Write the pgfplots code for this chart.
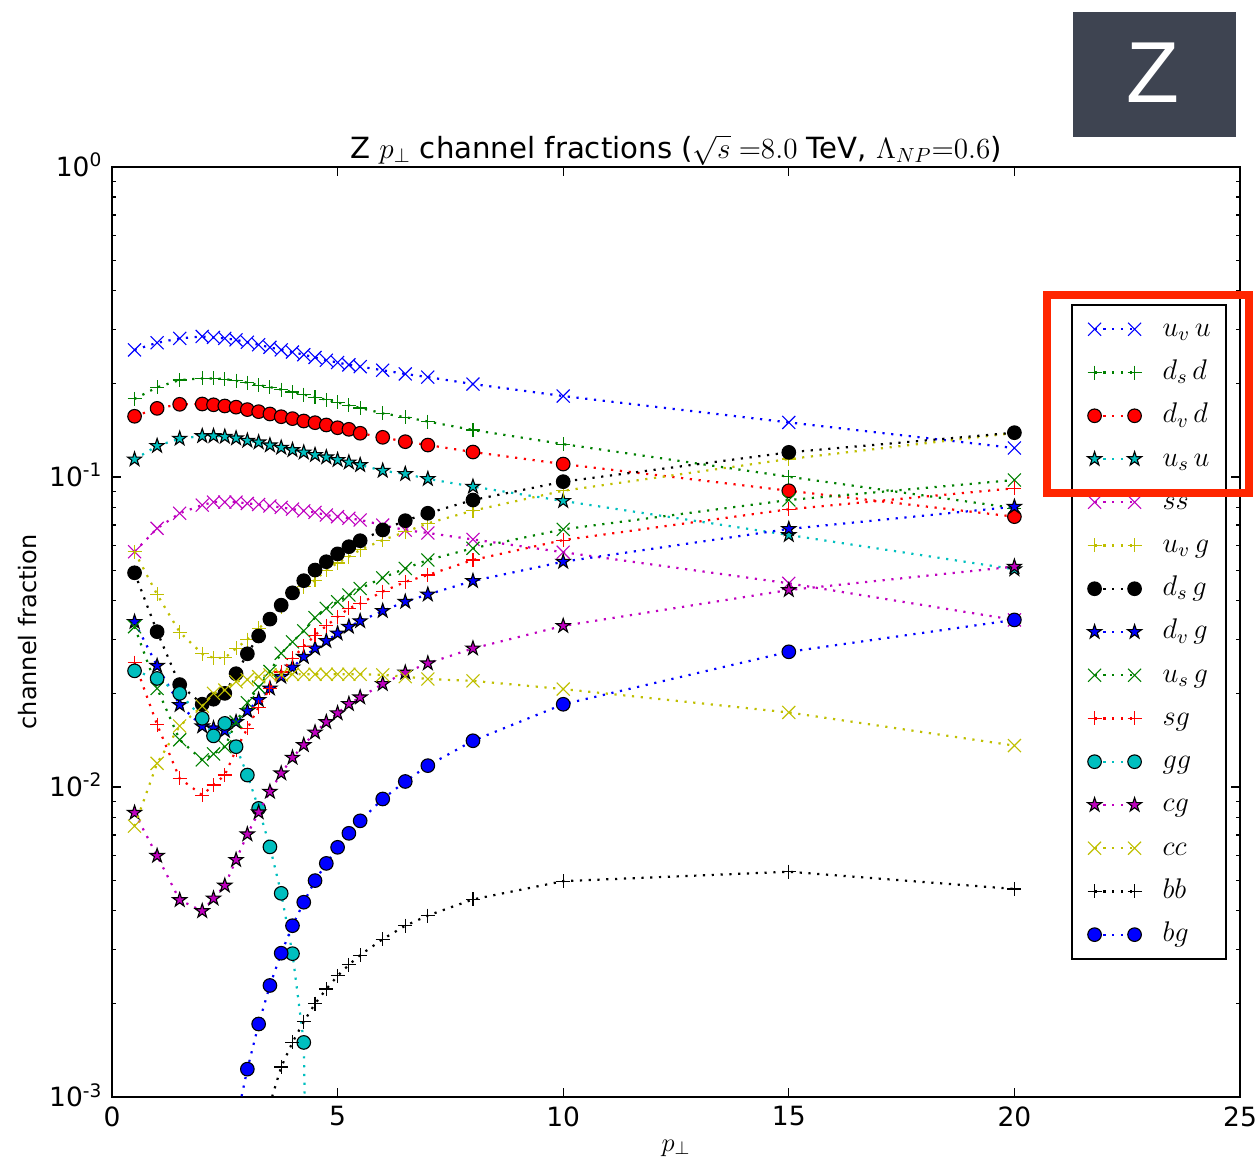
\documentclass[border=0pt]{standalone}
\usepackage{fix-cm}
\usepackage[no-math]{fontspec}
\setmainfont{DejaVu Sans}
\newfontfamily\zfont{Liberation Sans}
\usepackage{pgfplots}
\pgfplotsset{compat=1.18}
\usepackage{pgfplotstable}

\definecolor{mb}{rgb}{0,0,1}
\definecolor{mg}{rgb}{0,0.5,0}
\definecolor{mr}{rgb}{1,0,0}
\definecolor{mc}{rgb}{0,0.75,0.75}
\definecolor{mm}{rgb}{0.75,0,0.75}
\definecolor{my}{rgb}{0.75,0.75,0}
\definecolor{zbox}{RGB}{62,68,81}
\definecolor{hl}{RGB}{255,38,0}

\pgfdeclareplotmark{fstar}{%
  \pgfpathmoveto{\pgfpointpolar{90}{\pgfplotmarksize}}%
  \pgfpathlineto{\pgfpointpolar{126}{0.382*\pgfplotmarksize}}%
  \pgfpathlineto{\pgfpointpolar{162}{\pgfplotmarksize}}%
  \pgfpathlineto{\pgfpointpolar{198}{0.382*\pgfplotmarksize}}%
  \pgfpathlineto{\pgfpointpolar{234}{\pgfplotmarksize}}%
  \pgfpathlineto{\pgfpointpolar{270}{0.382*\pgfplotmarksize}}%
  \pgfpathlineto{\pgfpointpolar{306}{\pgfplotmarksize}}%
  \pgfpathlineto{\pgfpointpolar{342}{0.382*\pgfplotmarksize}}%
  \pgfpathlineto{\pgfpointpolar{18}{\pgfplotmarksize}}%
  \pgfpathlineto{\pgfpointpolar{54}{0.382*\pgfplotmarksize}}%
  \pgfpathclose
  \pgfusepathqfillstroke
}

\pgfplotstableread{
x     uvu    dsd    dvd    usu    ss     uvg    dsg    dvg    usg    sg      gg      cg      cc      bb      bg
0.5   0.257  0.1786 0.157  0.114  0.0574 0.0574 0.0491 0.0341 0.0329 0.0252  0.0237  0.00826 0.00748 nan     nan
1     0.271  0.1947 0.1665 0.126  0.0683 0.0418 0.0317 0.0246 0.0208 0.0159  0.0224  0.0060  0.01192 nan     nan
1.5   0.280  0.2055 0.1716 0.133  0.0764 0.0316 0.0214 0.0184 0.0142 0.01066 0.02005 0.00432 0.01573 nan     nan
2     0.284  0.208  0.172  0.1356 0.0812 0.0269 0.0185 0.0157 0.01223 0.00942 0.01666 0.00398 0.01825 nan    nan
2.25  0.282  0.208  0.171  0.1356 0.083  0.0261 0.0192 0.01547 0.01278 0.01015 0.01462 0.00437 0.02005 nan   nan
2.5   0.280  0.207  0.1695 0.1349 0.083  0.0261 0.02005 0.0152 0.01349 0.01093 0.01604 0.00481 0.02055 nan   nan
2.75  0.277  0.2045 0.168  0.1333 0.083  0.0280 0.0232 0.0162 0.0162 0.0132  0.01349 0.00582 0.02187 nan     0.00083
3     0.272  0.2015 0.165  0.131  0.0822 0.0299 0.0269 0.0176 0.0187 0.01546 0.01093 0.00704 0.0222  nan     0.00123
3.25  0.267  0.198  0.1625 0.1294 0.0815 0.0325 0.0307 0.0191 0.0210 0.0181  0.00853 0.00829 0.0227  0.0006  0.00172
3.5   0.262  0.195  0.1597 0.1266 0.0806 0.0348 0.0348 0.0208 0.0236 0.0208  0.00641 0.00966 0.0230  0.00095 0.00229
3.75  0.257  0.1915 0.1565 0.1244 0.0798 0.0381 0.0386 0.0227 0.0270 0.0235  0.00454 0.01107 0.0230  0.00125 0.00291
4     0.253  0.188  0.1543 0.1222 0.0788 0.0421 0.0423 0.0243 0.0294 0.0260  0.00290 0.01244 0.0231  0.00150 0.00357
4.25  0.248  0.1845 0.1516 0.120  0.0778 0.0443 0.0463 0.0263 0.0319 0.0284  0.00150 0.01366 0.0231  0.00175 0.00425
4.5   0.243  0.181  0.1497 0.1178 0.0769 0.0465 0.0501 0.0280 0.0352 0.0309  0.00001 0.0150  0.0231  0.00200 0.00499
4.75  0.238  0.1775 0.1472 0.1158 0.0754 0.0501 0.0533 0.0296 0.0377 0.0331  nan     0.0162  0.0231  0.00223 0.00567
5     0.234  0.174  0.1442 0.1135 0.0745 0.0528 0.0565 0.0313 0.0396 0.0354  nan     0.0173  0.0231  0.00246 0.00639
5.25  0.230  0.1705 0.1425 0.1115 0.0736 0.0553 0.0596 0.0329 0.0416 0.0377  nan     0.01853 0.0231  0.00267 0.00709
5.5   0.227  0.167  0.1384 0.1093 0.0727 0.0582 0.0623 0.0343 0.0437 0.0391  nan     0.01947 0.0231  0.00287 0.00778
6     0.221  0.1605 0.1343 0.1048 0.0700 0.0626 0.0675 0.0370 0.0473 0.0427  nan     0.0215  0.0230  0.00323 0.00915
6.5   0.215  0.156  0.130  0.1023 0.0674 0.0665 0.0723 0.0396 0.0507 0.0459  nan     0.0234  0.0227  0.00357 0.01042
7     0.210  0.151  0.1268 0.0986 0.0660 0.0709 0.0764 0.0418 0.0540 0.0483  nan     0.02506 0.0223  0.00385 0.01172
8     0.1995 0.1418 0.1204 0.0931 0.0629 0.0779 0.0843 0.0462 0.0589 0.0540  nan     0.0280  0.0220  0.00434 0.01410
10    0.1825 0.1277 0.1101 0.0837 0.0572 0.0903 0.0966 0.0533 0.0678 0.0626  nan     0.0331  0.0207  0.00497 0.01849
15    0.150  0.1002 0.0903 0.065  0.0454 0.1143 0.1201 0.0680 0.0843 0.0787  nan     0.0432  0.0174  0.00533 0.0273
20    0.124  0.0794 0.0745 0.0504 0.0346 0.1387 0.139  0.0802 0.0978 0.0920  nan     0.0514  0.0136  0.00469 0.0346
}\data

\pgfplotsset{
  mpl/.style={line width=1.1pt, dash pattern=on 1.1pt off 3.3pt},
  mx/.style={mpl, color=#1, mark=x, mark size=4.6pt, mark options={solid, line width=0.55pt}},
  mp/.style={mpl, color=#1, mark=+, mark size=3.5pt, mark options={solid, line width=0.55pt}},
  mo/.style={mpl, color=#1, mark=*, mark size=3.4pt, mark options={solid, fill=#1, draw=black, line width=0.55pt}},
  ms/.style={mpl, color=#1, mark=fstar, mark size=3.7pt, mark options={solid, fill=#1, draw=black, line width=0.55pt}},
}

\begin{document}
\begin{tikzpicture}
\useasboundingbox (0,0) rectangle (629.5pt,582pt);
\begin{axis}[
  at={(56pt,33.5pt)}, anchor=south west,
  scale only axis, width=564pt, height=465pt,
  xmin=0, xmax=25, ymin=1e-3, ymax=1, ymode=log,
  xtick={0,5,10,15,20,25},
  ytick={0.001,0.01,0.1,1},
  yticklabels={10\textsuperscript{-3},10\textsuperscript{-2},10\textsuperscript{-1},10\textsuperscript{0}},
  minor ytick={0.002,0.003,0.004,0.005,0.006,0.007,0.008,0.009,0.02,0.03,0.04,0.05,0.06,0.07,0.08,0.09,0.2,0.3,0.4,0.5,0.6,0.7,0.8,0.9},
  /pgf/number format/assume math mode=true,
  tick align=inside,
  major tick length=4.4pt, minor tick length=2.2pt,
  every tick/.style={black, line width=0.55pt},
  axis line style={line width=1.1pt},
  clip marker paths=true,
  unbounded coords=discard,
  xticklabel style={font=\fontsize{13.25}{16}\selectfont, inner sep=0pt, anchor=north, yshift=-4.5pt},
  yticklabel style={font=\fontsize{13.25}{16}\selectfont, inner sep=0pt, anchor=base east, xshift=-4.6pt, yshift=-4.8pt},
  title={Z $p_\perp$ channel fractions ($\sqrt{s}\;{=}8.0$ TeV, $\Lambda_{NP}{=}0.6$)},
  every axis title/.style={at={(0.5,1)}, anchor=base, yshift=4.5pt, font=\fontsize{14.6}{18}\selectfont},
  xlabel={$p_\perp$},
  every axis x label/.style={at={(axis description cs:0.5,0)}, anchor=base, yshift=-27pt, inner sep=0pt, font=\fontsize{13.25}{16}\selectfont},
  ylabel={channel fraction},
  every axis y label/.style={at={(axis description cs:-0.0665,0.5)}, anchor=base, rotate=90, inner sep=0pt, font=\fontsize{12}{14}\selectfont},
  legend style={at={(0.8502,0.8527)}, anchor=north west, draw=black, line width=1.1pt, fill=white,
    font=\fontsize{14.2}{17}\selectfont, inner xsep=7.7pt, inner ysep=4.6pt, row sep=6.62pt, column sep=10.5pt,
    nodes={inner sep=0pt, text height=11pt, text depth=4pt}},
  legend cell align=left,
  legend image code/.code={\draw[mark repeat=1, mark phase=1] plot coordinates {(0pt,0pt) (20pt,0pt)};},
]
\addplot[mx=mb] table[x=x, y=uvu]{\data};
\addlegendentry{$u_v\,u$}
\addplot[mp=mg] table[x=x, y=dsd]{\data};
\addlegendentry{$d_s\,d$}
\addplot[mo=mr] table[x=x, y=dvd]{\data};
\addlegendentry{$d_v\,d$}
\addplot[ms=mc] table[x=x, y=usu]{\data};
\addlegendentry{$u_s\,u$}
\addplot[mx=mm] table[x=x, y=ss]{\data};
\addlegendentry{$ss$}
\addplot[mp=my] table[x=x, y=uvg]{\data};
\addlegendentry{$u_v\,g$}
\addplot[mo=black] table[x=x, y=dsg]{\data};
\addlegendentry{$d_s\,g$}
\addplot[ms=mb] table[x=x, y=dvg]{\data};
\addlegendentry{$d_v\,g$}
\addplot[mx=mg] table[x=x, y=usg]{\data};
\addlegendentry{$u_s\,g$}
\addplot[mp=mr] table[x=x, y=sg]{\data};
\addlegendentry{$sg$}
\addplot[mo=mc] table[x=x, y=gg]{\data};
\addlegendentry{$gg$}
\addplot[ms=mm] table[x=x, y=cg]{\data};
\addlegendentry{$cg$}
\addplot[mx=my] table[x=x, y=cc]{\data};
\addlegendentry{$cc$}
\addplot[mp=black] table[x=x, y=bb]{\data};
\addlegendentry{$bb$}
\addplot[mo=mb] table[x=x, y=bg]{\data};
\addlegendentry{$bg$}
\end{axis}
\fill[zbox] (536.5pt,513.5pt) rectangle (618pt,576pt);
\node[text=white, font=\zfont\fontsize{43.3}{44}\selectfont, inner sep=0pt] at (576.25pt,545.5pt) {Z};
\draw[hl, line width=4pt] (523.5pt,335.5pt) rectangle (624.5pt,434.5pt);
\end{tikzpicture}
\end{document}
